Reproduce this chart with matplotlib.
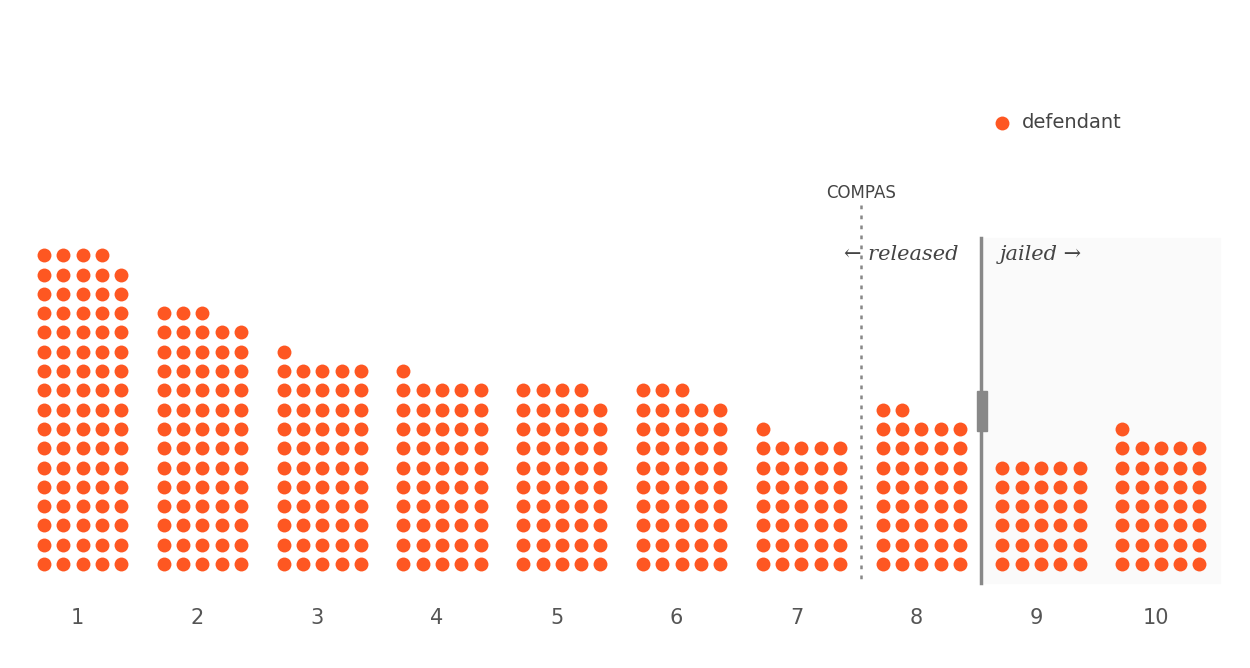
import matplotlib.pyplot as plt
import numpy as np

# defendants per COMPAS decile score
scores = ['1', '2', '3', '4', '5', '6', '7', '8', '9', '10']
counts = [84, 68, 56, 51, 49, 48, 36, 42, 30, 36]

dot_color = '#fe5722'
per_row = 5
step = 19.3
col_gap = 119.8
x0 = 44
y_bottom = 564

fig = plt.figure(figsize=(12.5, 6.68), dpi=100)
ax = fig.add_axes([0, 0, 1, 1])
ax.set_xlim(0, 1250)
ax.set_ylim(668, 0)
ax.axis('off')

# jailed region background
ax.fill_between([983, 1220], 238, 583, color='#fafafa', zorder=0)

for i, (lab, n) in enumerate(zip(scores, counts)):
    k = np.arange(n)
    xs = x0 + i * col_gap + (k % per_row) * step
    ys = y_bottom - (k // per_row) * step
    ax.scatter(xs, ys, s=100, color=dot_color, linewidths=0, zorder=3)
    cx = x0 + i * col_gap + 2 * step - 5
    ax.text(cx, 618, lab, ha='center', va='center', fontsize=15, color='#555555')

# thresholds
ax.plot([861, 861], [205, 583], color='#888888', lw=1.8, ls=(0, (1.5, 2.5)))
ax.text(861, 193, 'COMPAS', ha='center', va='center', fontsize=12, color='#444444')
ax.plot([981, 981], [238, 583], color='#888888', lw=2.5)
ax.add_patch(plt.Rectangle((976.5, 391), 10, 40, color='#888888'))
ax.text(958, 254, '\u2190 released', ha='right', va='center', fontsize=15,
        style='italic', family=['DejaVu Serif'], color='#444444')
ax.text(1000, 254, 'jailed \u2192', ha='left', va='center', fontsize=15,
        style='italic', family=['DejaVu Serif'], color='#444444')

# legend
ax.scatter([1002], [123], s=100, color=dot_color, linewidths=0)
ax.text(1022, 123, 'defendant', ha='left', va='center', fontsize=14, color='#444444')

fig.savefig('out.png', dpi=100)
